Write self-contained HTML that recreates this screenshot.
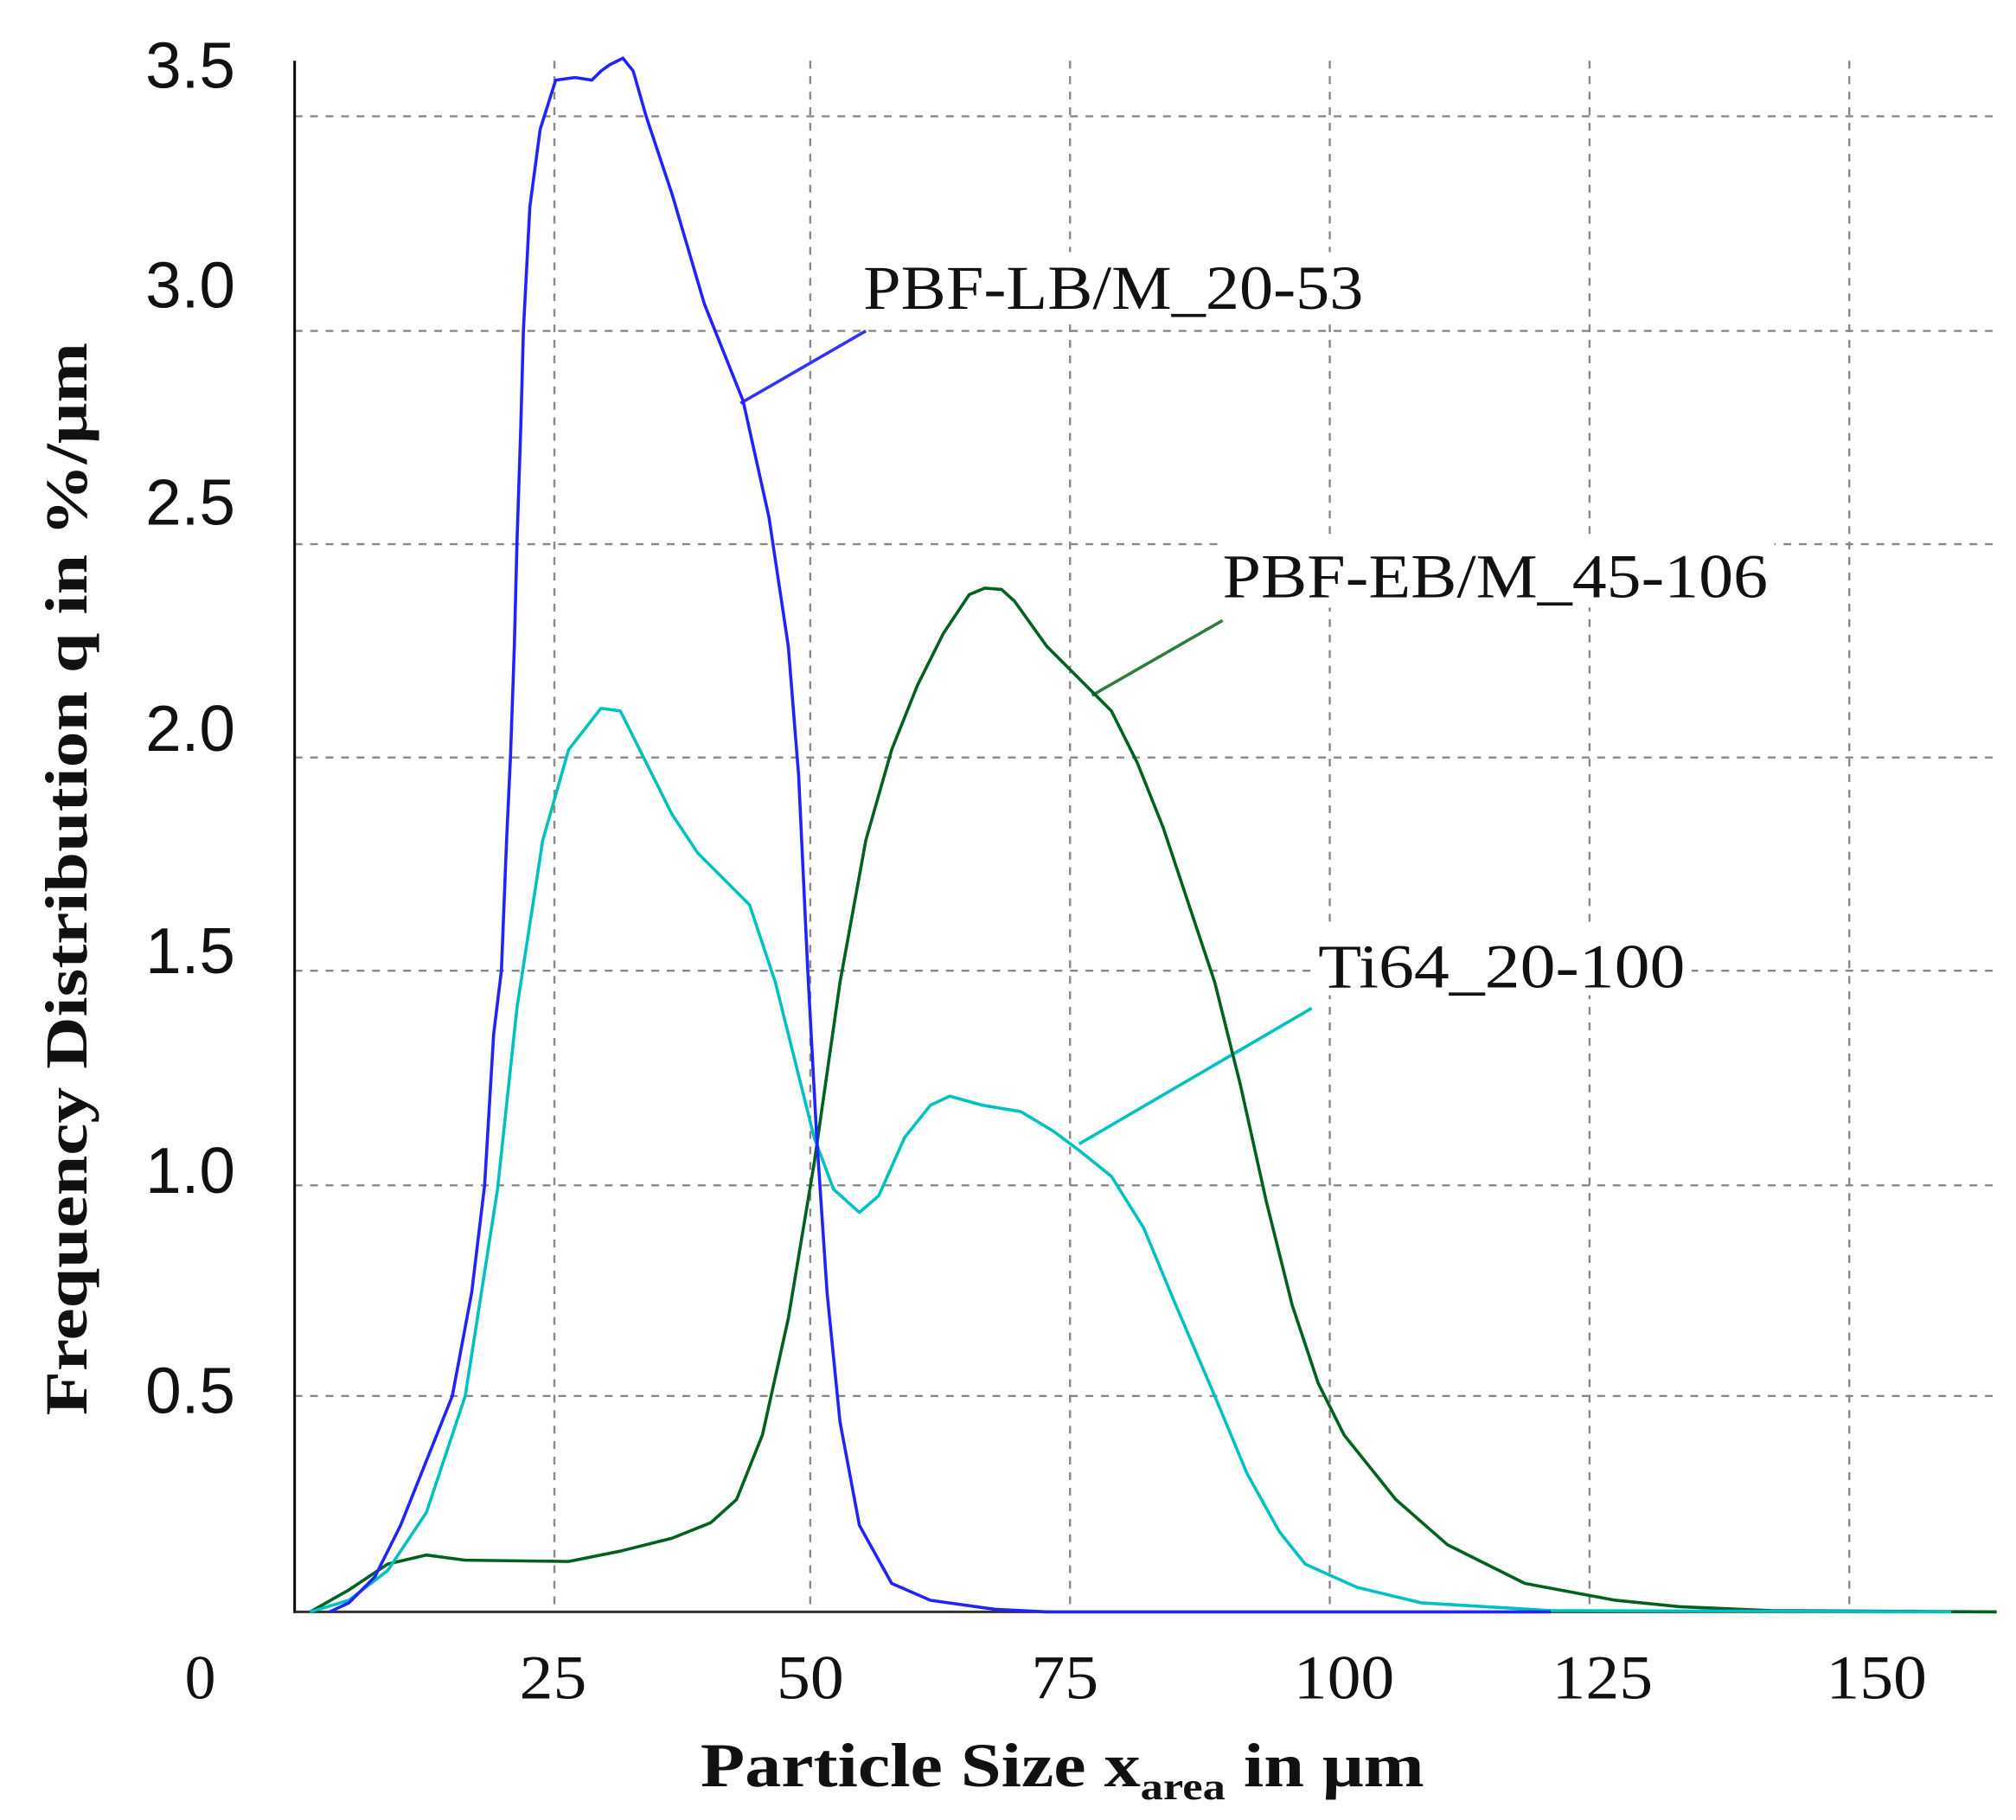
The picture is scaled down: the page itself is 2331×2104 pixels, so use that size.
<!DOCTYPE html>
<html><head><meta charset="utf-8"><style>html,body{margin:0;padding:0;background:#fff}svg{display:block}</style></head>
<body>
<svg width="2331" height="2104" viewBox="0 0 1560 1408" preserveAspectRatio="none" xmlns="http://www.w3.org/2000/svg">
<rect width="1560" height="1408" fill="#fff"/>
<g stroke="#888" stroke-width="1.6" stroke-dasharray="6,6" fill="none">
<line x1="228" y1="90" x2="1545" y2="90"/>
<line x1="228" y1="256" x2="1545" y2="256"/>
<line x1="228" y1="421" x2="1545" y2="421"/>
<line x1="228" y1="586" x2="1545" y2="586"/>
<line x1="228" y1="751" x2="1545" y2="751"/>
<line x1="228" y1="917" x2="1545" y2="917"/>
<line x1="228" y1="1080" x2="1545" y2="1080"/>
<line x1="429" y1="47" x2="429" y2="1247"/>
<line x1="627" y1="47" x2="627" y2="1247"/>
<line x1="828" y1="47" x2="828" y2="1247"/>
<line x1="1029" y1="47" x2="1029" y2="1247"/>
<line x1="1230" y1="47" x2="1230" y2="1247"/>
<line x1="1431" y1="47" x2="1431" y2="1247"/>
</g>
<rect x="665" y="195" width="395" height="52" fill="#fff"/>
<rect x="943" y="418" width="430" height="52" fill="#fff"/>
<rect x="1017" y="718" width="292" height="52" fill="#fff"/>
<line x1="228" y1="47" x2="228" y2="1248" stroke="#000" stroke-width="2"/>
<line x1="228" y1="1247" x2="1545" y2="1247" stroke="#333" stroke-width="2"/>
<g font-family="Liberation Sans, sans-serif" font-size="50" fill="#111" text-anchor="end">
<text x="182" y="68">3.5</text>
<text x="182" y="238">3.0</text>
<text x="182" y="406">2.5</text>
<text x="182" y="581">2.0</text>
<text x="182" y="753">1.5</text>
<text x="182" y="923">1.0</text>
<text x="182" y="1093">0.5</text>
</g>
<g font-family="Liberation Serif, serif" font-size="48" fill="#111" text-anchor="middle">
<text x="155" y="1314">0</text>
<text x="428" y="1314" textLength="52" lengthAdjust="spacingAndGlyphs">25</text>
<text x="627" y="1314" textLength="52" lengthAdjust="spacingAndGlyphs">50</text>
<text x="824" y="1314" textLength="52" lengthAdjust="spacingAndGlyphs">75</text>
<text x="1040" y="1314" textLength="78" lengthAdjust="spacingAndGlyphs">100</text>
<text x="1240" y="1314" textLength="78" lengthAdjust="spacingAndGlyphs">125</text>
<text x="1452" y="1314" textLength="78" lengthAdjust="spacingAndGlyphs">150</text>
</g>
<text x="542" y="1382" font-family="Liberation Serif, serif" font-weight="bold" font-size="48" fill="#111" textLength="560" lengthAdjust="spacingAndGlyphs">Particle Size x<tspan font-size="30" dy="10">area</tspan><tspan dy="-10"> in μm</tspan></text>
<text transform="translate(67,680) rotate(-90)" text-anchor="middle" font-family="Liberation Serif, serif" font-weight="bold" font-size="46" fill="#111" textLength="830" lengthAdjust="spacingAndGlyphs">Frequency Distribution q in %/μm</text>
<g font-family="Liberation Serif, serif" font-size="48" fill="#111">
<text x="668" y="239" textLength="387" lengthAdjust="spacingAndGlyphs">PBF-LB/M_20-53</text>
<text x="946" y="462" textLength="422" lengthAdjust="spacingAndGlyphs">PBF-EB/M_45-106</text>
<text x="1020" y="764" textLength="284" lengthAdjust="spacingAndGlyphs">Ti64_20-100</text>
</g>
<line x1="670" y1="256" x2="573" y2="312" stroke="#3333ff" stroke-width="2.4"/>
<line x1="946" y1="480" x2="845" y2="538" stroke="#2e7d3e" stroke-width="2.4"/>
<line x1="1015" y1="780" x2="835" y2="885" stroke="#00c0c0" stroke-width="2.4"/>
<g fill="none" stroke-width="2.4" stroke-linejoin="round">
<polyline stroke="#006020" points="240,1247 270,1230 300,1210 330,1203 360,1207 440,1208 480,1200 520,1190 550,1178 570,1160 590,1110 610,1020 630,900 650,760 670,650 690,580 710,530 730,490 750,460 762,455 775,456 785,465 810,500 840,530 860,550 880,590 900,640 920,700 940,760 960,840 980,930 1000,1010 1020,1070 1040,1110 1080,1160 1120,1195 1180,1225 1250,1238 1300,1243 1370,1246 1545,1247"/>
<polyline stroke="#00c0c0" points="240,1247 270,1238 300,1215 330,1170 360,1080 385,920 400,780 420,650 440,580 465,548 480,550 500,590 520,630 540,660 560,680 580,700 600,760 615,820 630,880 645,920 665,938 680,925 700,880 720,855 735,848 760,855 790,860 815,875 835,890 860,910 885,950 910,1010 940,1080 965,1140 990,1185 1010,1210 1050,1228 1100,1240 1200,1246 1510,1247"/>
<polyline stroke="#2222ff" points="255,1247 270,1240 290,1220 310,1180 330,1130 350,1080 365,1000 375,917 382,800 388,751 392,650 395,586 398,500 400,421 403,330 405,256 410,160 418,100 430,62 445,60 458,62 465,55 472,50 482,45 490,55 500,90 520,150 545,235 575,310 595,400 610,500 618,600 625,750 632,880 640,1000 650,1100 665,1180 690,1225 720,1238 770,1245 810,1247 1200,1247"/>
</g>
</svg>
</body></html>
